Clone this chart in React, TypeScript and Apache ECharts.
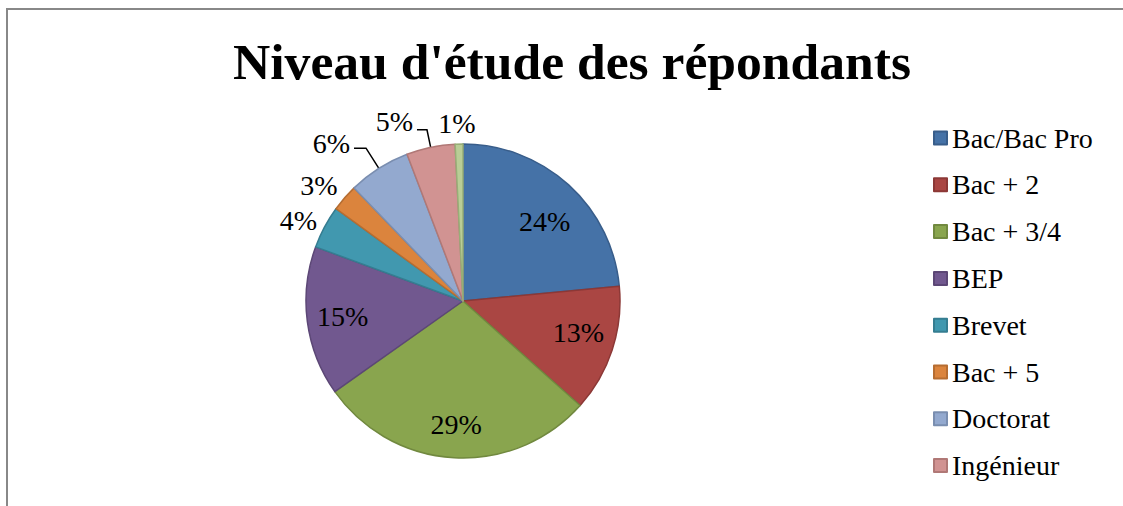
import React, { useEffect, useRef } from "react";
import * as echarts from "echarts";

const titleText = "Niveau d'étude des répondants";
const categories = ["Bac/Bac Pro", "Bac + 2", "Bac + 3/4", "BEP", "Brevet", "Bac + 5", "Doctorat", "Ingénieur", "Autre"];
const values = [23.5, 13.1, 28.6, 15.4, 4.4, 2.8, 6.4, 5.0, 0.8];
const legendNames = categories.slice(0, 8);

const colors = ["#4572A7", "#AA4643", "#89A54E", "#71588F", "#4198AF", "#DB843D", "#93A9CF", "#D19392", "#B9CD96"];
const borderColors = ["#385D8A", "#8C3836", "#71893F", "#5C4776", "#357D91", "#B66D31", "#7A8EB0", "#B07876", "#98AE77"];
const insideLabel = [true, true, true, true, false, false, false, false, false];
// inside label vertical nudge (spacer height: >0 pushes text down, <0 pushes up)
const insideNudge = [20, -12, 4, 0, 0, 0, 0, 0, 0];
// outside label styling: [lineLength, lineLength2, showLine, distance, spacerBelow]
const outsideStyle: Record<number, [number, number, boolean, number, number]> = {
  4: [14.5, -7.5, false, 2, 0],
  5: [19.6, -9.7, false, 2, 0],
  6: [24, 12, true, 4, 10],
  7: [18, 10, true, 4, 17],
  8: [21, -22, false, 5, 0],
};

const FONT = "Liberation Serif";
const LS = 28;

export default function App() {
  const ref = useRef<HTMLDivElement>(null);
  useEffect(() => {
    document.body.style.margin = "0";
    const chart = echarts.init(ref.current!, null, { renderer: "svg" });
    const rich = (h: number) => ({
      v: { fontFamily: FONT, fontSize: LS, color: "#000", lineHeight: 28 },
      s: { fontSize: 1, lineHeight: Math.max(h, 1) },
    });
    const mainData = categories.map((name, i) => {
      const o = outsideStyle[i];
      return {
        name,
        value: values[i],
        itemStyle: { color: colors[i], borderColor: borderColors[i], borderWidth: 1.5 },
        label: o
          ? {
              show: true,
              position: "outside",
              distanceToLabelLine: o[3],
              formatter: (p: any) =>
                o[4] > 0 ? "{v|" + Math.round(p.percent) + "%}\n{s|}" : "{v|" + Math.round(p.percent) + "%}",
              rich: rich(o[4]),
            }
          : { show: false },
        labelLine: o
          ? { show: o[2], length: o[0], length2: o[1], lineStyle: { color: "#000", width: 1.5 } }
          : { show: false },
      };
    });
    const overlayData = categories.map((name, i) => {
      const n = insideNudge[i];
      return {
        name,
        value: values[i],
        itemStyle: { color: "rgba(0,0,0,0)", borderWidth: 0 },
        label: {
          show: insideLabel[i],
          formatter: (p: any) =>
            n > 0
              ? "{s|}\n{v|" + Math.round(p.percent) + "%}"
              : n < 0
              ? "{v|" + Math.round(p.percent) + "%}\n{s|}"
              : "{v|" + Math.round(p.percent) + "%}",
          rich: rich(Math.abs(n)),
        },
      };
    });
    chart.setOption({
      animation: false,
      backgroundColor: "#ffffff",
      title: {
        text: titleText,
        left: 567,
        textAlign: "center",
        top: 30,
        textStyle: { fontFamily: FONT, fontWeight: "bold", fontSize: 51.6, color: "#000" },
      },
      legend: {
        orient: "vertical",
        left: 933,
        top: 123,
        height: 700,
        padding: 0,
        data: legendNames,
        icon: "rect",
        itemWidth: 13,
        itemHeight: 13,
        itemGap: 16.8,
        selectedMode: false,
        textStyle: { fontFamily: FONT, fontSize: 28, color: "#000", lineHeight: 30 },
      },
      graphic: [
        {
          type: "polyline",
          shape: { points: [[7, 506], [7, 9], [1123, 9]] },
          style: { stroke: "#888888", lineWidth: 2, fill: "none" },
        },
      ],
      series: [
        {
          type: "pie",
          center: [463, 301],
          radius: [0, 157],
          startAngle: 90,
          clockwise: true,
          avoidLabelOverlap: false,
          labelLayout: { hideOverlap: false },
          silent: true,
          label: { fontFamily: FONT, fontSize: LS, color: "#000" },
          data: mainData,
        },
        {
          type: "pie",
          center: [463, 301],
          radius: [80, 157],
          startAngle: 90,
          clockwise: true,
          silent: true,
          avoidLabelOverlap: false,
          labelLayout: { hideOverlap: false },
          label: { position: "inside", fontFamily: FONT, fontSize: LS, color: "#000" },
          labelLine: { show: false },
          data: overlayData,
        },
      ],
    });
    return () => chart.dispose();
  }, []);
  return <div ref={ref} style={{ width: 1123, height: 506 }} />;
}
